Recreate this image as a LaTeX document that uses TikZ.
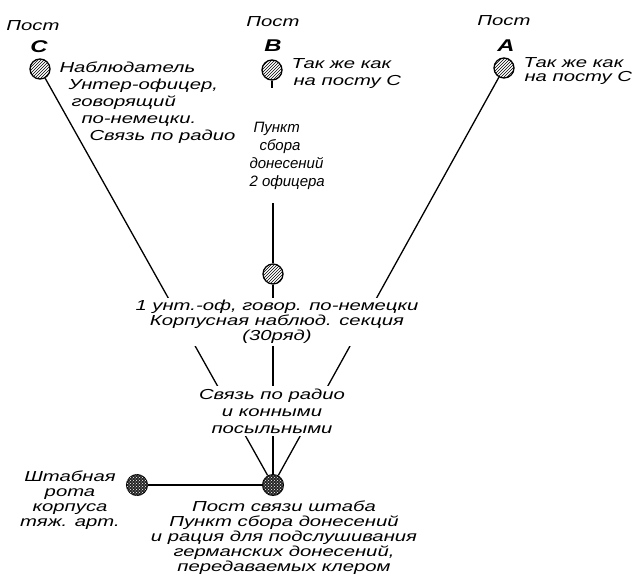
\documentclass[tikz,border=0pt]{standalone}
\usepackage{fontspec}
\setmainfont{Liberation Sans}[FakeStretch=1.4]
\newfontfamily\narrowfont{Liberation Sans}[FakeStretch=1.0]
\usetikzlibrary{patterns}

\begin{document}
\begin{tikzpicture}[x=1pt,y=-1pt,
	every node/.style={font=\fontsize{14.5}{17}\selectfont\itshape},
	tight/.style={font=\fontsize{14.5}{15}\selectfont\itshape},
	letter/.style={font=\fontsize{17}{17}\selectfont\bfseries\itshape},
	post/.style={shape=circle,draw=black,line width=1.3pt,minimum size=20pt,inner sep=0pt,pattern=north east lines},
	hq/.style={shape=circle,draw=black,line width=1pt,minimum size=21pt,inner sep=0pt,fill=black!85,postaction={pattern=crosshatch dots,pattern color=white}},
	mask/.style={fill=white,inner sep=2pt,align=center},
	link/.style={line width=1.3pt}]

	\useasboundingbox (0,0) rectangle (643,584);

	% posts
	\node[post] (c) at (40, 69) {};
	\node[post] (b) at (272, 70) {};
	\node[post] (a) at (504, 68) {};
	\node[post] (obs) at (273, 274) {};

	\node[hq] (hq) at (273, 485) {};
	\node[hq] (rota) at (137, 485) {};

	\coordinate (bstub) at (272, 88);
	\coordinate (bline) at (273, 203);

	\path[link] (c) edge (hq);
	\path[link] (a) edge (hq);
	\path[link] (b) edge (bstub);
	\path[link] (bline) edge (obs);
	\path[link] (obs) edge (hq);
	\path[link] (rota) edge (hq);

	% labels over posts
	\node (pc) at (33, 26) {Пост};
	\node[letter] (lc) at (39, 47) {C};
	\node (pb) at (273, 22) {Пост};
	\node[letter] (lb) at (273, 46) {B};
	\node (pa) at (504, 21) {Пост};
	\node[letter] (la) at (506, 46) {A};

	\node[anchor=west,align=left] (tc) at (56, 103) {Наблюдатель\\\hspace*{9pt}Унтер-офицер,\\\hspace*{12pt}говорящий\\\hspace*{22pt}по-немецки.\\\hspace*{30pt}Связь по радио};
	\node[anchor=west,align=left] (tb) at (288, 74) {Так же как\\\hspace*{2pt}на посту C};
	\node[anchor=west,align=left,font=\fontsize{14.5}{14}\selectfont\itshape] (ta) at (520, 71) {Так же как\\\hspace*{1pt}на посту C};

	\node[anchor=west,align=left,font=\narrowfont\fontsize{15}{18}\selectfont\itshape] (punkt) at (246, 156) {\hspace*{4pt}Пункт\\\hspace*{10pt}сбора\\донесений\\2 офицера};

	% middle blocks
	\node[mask,tight] (sect) at (277, 322) {1 унт.-оф, говор. по-немецки\\Корпусная наблюд. секция\\(30ряд)};
	\node[mask,inner ysep=3pt] (svyaz) at (272, 411) {Связь по радио\\и конными\\посыльными};

	% bottom
	\node[tight,align=center] (trota) at (70, 500) {Штабная\\рота\\корпуса\\тяж. арт.};
	\node[tight,align=center] (thq) at (284, 538) {Пост связи штаба\\Пункт сбора донесений\\и рация для подслушивания\\германских донесений,\\передаваемых клером};

\end{tikzpicture}
\end{document}
